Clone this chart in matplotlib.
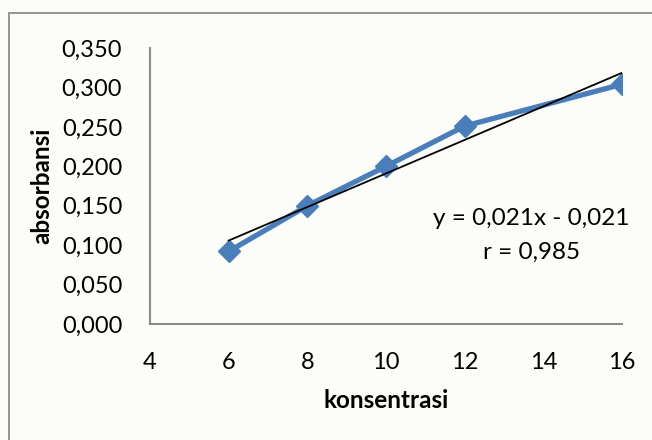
import matplotlib.pyplot as plt
import numpy as np
from matplotlib.patches import Rectangle
from matplotlib.ticker import FuncFormatter

plt.rcParams['font.family'] = ['Lato', 'DejaVu Sans']

# calibration data
konsentrasi = [6, 8, 10, 12, 16]
absorbansi = [0.092, 0.150, 0.200, 0.251, 0.304]
x_ticks = [4, 6, 8, 10, 12, 14, 16]
y_ticks = [0.0, 0.05, 0.10, 0.15, 0.20, 0.25, 0.30, 0.35]
r_value = 0.985

fig = plt.figure(figsize=(6.52, 4.40), dpi=100)
fig.patch.set_facecolor('#fcfcf8')

# chart area border (runs off the right and bottom edge)
fig.patches.append(Rectangle((9 / 652, -0.05), 1.2, 1.05 - 13 / 440,
                             transform=fig.transFigure, fill=False,
                             edgecolor='#8c8c8c', linewidth=1.3))

ax = fig.add_axes([150 / 652, 116 / 440, 472 / 652, 276 / 440])
ax.set_facecolor('none')

ax.plot(konsentrasi, absorbansi, color='#4a7ebb', linewidth=3.8,
        marker='D', markersize=11, zorder=3)

# linear trendline
slope, intercept = np.polyfit(konsentrasi, absorbansi, 1)
xs = np.array([konsentrasi[0], konsentrasi[-1]])
ax.plot(xs, slope * xs + intercept, color='black', linewidth=1.3, zorder=4)

ax.text(13.69, 0.134, 'y = 0,021x - 0,021', ha='center', va='center',
        fontsize=17.5)
ax.text(13.69, 0.0915, 'r = ' + ('%.3f' % r_value).replace('.', ','),
        ha='center', va='center', fontsize=17.5)

ax.set_xlim(4, 16)
ax.set_ylim(0, 0.35)
ax.set_xticks(x_ticks)
ax.set_yticks(y_ticks)
ax.yaxis.set_major_formatter(FuncFormatter(lambda v, p: ('%.3f' % v).replace('.', ',')))
ax.tick_params(length=0, labelsize=17, pad=20)

for side in ['top', 'right']:
    ax.spines[side].set_visible(False)
for side in ['left', 'bottom']:
    ax.spines[side].set_color('#8a8a8a')
    ax.spines[side].set_linewidth(1.5)

ax.set_xlabel('konsentrasi', fontsize=17.5, fontweight='bold', labelpad=12)
ax.set_ylabel('absorbansi', fontsize=17.5, fontweight='bold', labelpad=6)

fig.savefig('out.png', dpi=100, facecolor=fig.get_facecolor())
